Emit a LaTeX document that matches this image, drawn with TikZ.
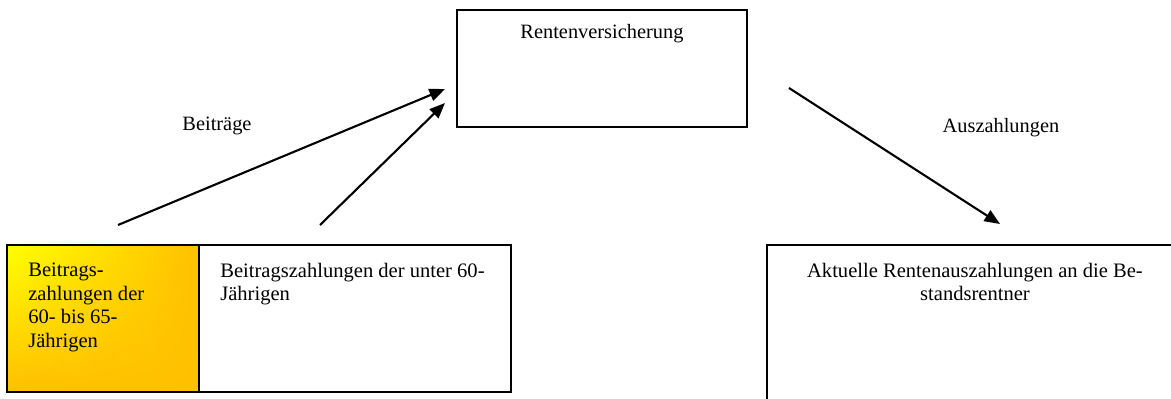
\documentclass[tikz,border=0pt]{standalone}
\usepackage{fontspec}
\setmainfont{Liberation Serif}
\usepackage{xcolor}
\usepackage{tikz}
\usetikzlibrary{positioning, arrows.meta, shadings}
\definecolor{brightyellow}{HTML}{FFFF00}
\definecolor{ambergold}{HTML}{FFC000}
\tikzstyle{box} = [rectangle, draw=black, line width=1pt, inner sep=0pt, outer sep=0pt, anchor=north west]
\tikzstyle{boxtext} = [inner sep=0pt, align=left, font=\fontsize{11.7}{13.3}\selectfont]
\tikzstyle{flowtext} = [inner sep=0pt, font=\fontsize{11.6}{13.3}\selectfont]
\tikzstyle{arrow} = [line width=1.2pt, -{Triangle[length=0.31cm, width=0.25cm]}]
\begin{document}
\begin{tikzpicture}[x=0.02cm, y=-0.02cm]
                        \useasboundingbox (0,0) rectangle (1171,399);
                        \clip (0,0) rectangle (1171,399);
                        % boxes
                        \node (rv) [box, minimum width=5.8cm, minimum height=2.34cm] at (457,10) {};
                        \node (rvtext) [flowtext, anchor=north, below=0.28cm of rv.north] {Rentenversicherung};
                        \node (older) [box, minimum width=3.84cm, minimum height=2.94cm, shading=bilinear interpolation, upper left=brightyellow, upper right=ambergold, lower left=ambergold, lower right=ambergold] at (7,245) {};
                        \draw [line width=1pt] (older.north west) rectangle (older.south east);
                        \node (oldertext) [boxtext, below right=0.36cm and 0.42cm of older.north west] {Beitrags-\\zahlungen der\\60- bis 65-\\Jährigen};
                        \node (younger) [box, minimum width=6.24cm, minimum height=2.94cm] at (older.north east) {};
                        \node (youngertext) [boxtext, below right=0.36cm and 0.42cm of younger.north west] {Beitragszahlungen der unter 60-\\Jährigen};
                        \node (pensioners) [box, minimum width=8.32cm, minimum height=3.6cm] at (767,245) {};
                        \node (pensionerstext) [boxtext, align=center, below=0.36cm of pensioners.north] {Aktuelle Rentenauszahlungen an die Be-\\standsrentner};
                        % arrows
                        \coordinate (olderstart) at (118,225);
                        \coordinate (olderend) at (445,89);
                        \coordinate (youngerstart) at (320,225);
                        \coordinate (youngerend) at (445,103);
                        \coordinate (payoutstart) at (789,88);
                        \coordinate (payoutend) at (1000,224);
                        \draw [arrow] (olderstart) -- (olderend);
                        \draw [arrow] (youngerstart) -- (youngerend);
                        \draw [arrow] (payoutstart) -- (payoutend);
                        \node (contrib) [flowtext, anchor=base] at (217,130) {Beiträge};
                        \node (payout) [flowtext, anchor=base] at (1001,132) {Auszahlungen};
                    \end{tikzpicture}
\end{document}
